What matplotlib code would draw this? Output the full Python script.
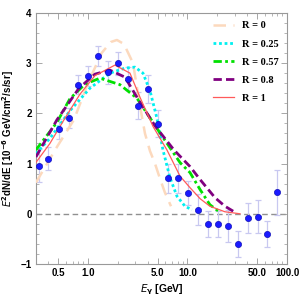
import numpy as np
import matplotlib
matplotlib.use("Agg")
import matplotlib.pyplot as plt
from matplotlib.ticker import FixedLocator, LogLocator, NullFormatter, MultipleLocator

# Puntos de datos (energía en GeV, flujo y error)
energia = [0.32, 0.40, 0.51, 0.64, 0.80, 1.01, 1.27, 1.60, 2.01, 2.53, 3.19, 4.02,
           5.06, 6.37, 8.02, 10.1, 12.7, 16.0, 20.1, 25.3, 31.9, 40.1, 50.5, 63.6, 80.1]
flujo = [0.96, 1.10, 1.69, 1.90, 2.57, 2.74, 3.15, 2.82, 3.00, 2.69, 2.15, 2.48,
         1.79, 0.71, 0.71, 0.42, 0.08, -0.21, -0.21, -0.25, -0.60, -0.09, -0.06, -0.40, 0.43]
error = [0.32, 0.22, 0.20, 0.20, 0.19, 0.20, 0.20, 0.23, 0.23, 0.23, 0.27, 0.28,
         0.27, 0.29, 0.29, 0.24, 0.31, 0.26, 0.26, 0.32, 0.26, 0.30, 0.33, 0.26, 0.45]

# Curvas de los modelos
e_r0 = [0.300, 0.488, 0.723, 1.0, 1.373, 1.700, 1.956, 2.30, 2.834, 3.332, 3.740, 4.200, 4.714, 5.292, 5.940, 6.83]
y_r0 = [0.62, 1.33, 1.87, 2.60, 3.20, 3.42, 3.46, 3.38, 3.00, 2.15, 1.60, 1.25, 1.00, 0.70, 0.42, 0.15]

e_r025 = [0.300, 0.415, 0.659, 1.047, 1.664, 2.354, 2.968, 3.571, 4.200, 4.937, 5.673, 6.67, 7.84, 9.44, 11.1]
y_r025 = [1.20, 1.50, 2.05, 2.50, 2.80, 2.90, 2.92, 2.80, 2.45, 1.90, 1.27, 0.72, 0.35, 0.15, 0.08]

e_r057 = [0.300, 0.488, 0.659, 0.933, 1.320, 2.097, 3.108, 5.292, 8.41, 10.6, 13.4, 16.8, 21.2]
y_r057 = [1.27, 1.82, 2.29, 2.58, 2.70, 2.57, 2.30, 1.61, 1.02, 0.82, 0.48, 0.18, 0.03]

e_r08 = [0.300, 0.488, 0.659, 0.812, 1.176, 1.664, 2.354, 3.332, 4.714, 7.32, 10.6, 13.4, 18.9, 23.8, 30.0]
y_r08 = [1.13, 1.87, 2.24, 2.50, 2.78, 2.86, 2.72, 2.22, 1.75, 1.27, 0.94, 0.68, 0.32, 0.15, 0.03]

e_r1 = [0.300, 0.415, 0.574, 0.831, 1.176, 1.868, 2.643, 3.332, 4.501, 6.22, 8.41, 10.6, 13.4, 16.8, 23.8, 33.7]
y_r1 = [1.02, 1.40, 1.87, 2.38, 2.75, 2.96, 2.80, 2.32, 1.74, 1.27, 0.75, 0.52, 0.30, 0.15, 0.04, 0.0]

fig = plt.figure(figsize=(2.99, 2.99), dpi=100)
ax = fig.add_axes([0.120, 0.117, 0.840, 0.840])

sans = "Liberation Sans"
serif = "Liberation Serif"

ax.axhline(0, color="#909090", lw=1.0, ls=(0, (4, 2.5)), zorder=1)

ax.errorbar(energia, flujo, yerr=error, fmt="none", ecolor="#c8c8f0", elinewidth=0.9,
            capsize=2.5, capthick=0.9, zorder=2)
ax.plot(energia, flujo, "o", color="#1a1aff", mec="#0000aa", mew=0.4, ms=4.5, zorder=6)

ax.plot(e_r0, y_r0, color="#fcd9bd", lw=1.8, ls=(0, (5, 3)), label="R = 0", zorder=3)
ax.plot(e_r025, y_r025, color="#00f0f0", lw=2.0, ls=(0, (1, 1)), label="R = 0.25", zorder=4)
ax.plot(e_r057, y_r057, color="#00e000", lw=2.0, ls=(0, (3, 1.2, 1, 1.2)), label="R = 0.57", zorder=4)
ax.plot(e_r08, y_r08, color="#800080", lw=2.0, ls=(0, (3, 1.5)), label="R = 0.8", zorder=5)
ax.plot(e_r1, y_r1, color="#ff5a5a", lw=0.9, label="R = 1", zorder=5)

ax.set_xscale("log")
ax.set_xlim(0.3, 100)
ax.set_ylim(-1, 4)

ax.xaxis.set_major_locator(FixedLocator([0.5, 1, 5, 10, 50, 100]))
ax.xaxis.set_minor_locator(LogLocator(base=10, subs=np.arange(2, 10) * 1.0))
ax.xaxis.set_minor_formatter(NullFormatter())
ax.set_xticklabels(["0.5", "1.0", "5.0", "10.0", "50.0", "100.0"])
ax.yaxis.set_major_locator(MultipleLocator(1))
ax.yaxis.set_minor_locator(MultipleLocator(0.2))

ax.tick_params(which="both", direction="in", top=True, right=True, color="#999999",
               labelsize=7, pad=3)
ax.tick_params(which="major", length=4, width=0.6)
ax.tick_params(which="minor", length=2, width=0.5)
for lab in ax.get_xticklabels() + ax.get_yticklabels():
    lab.set_fontfamily(sans)
    lab.set_fontweight("bold")
for s in ax.spines.values():
    s.set_color("#999999")
    s.set_linewidth(0.8)

ax.set_xlabel(r"$\mathbf{\mathit{E}_\gamma}$ [GeV]", fontsize=7.5, fontweight="bold", family=sans,
              labelpad=3)
ax.set_ylabel(r"$\mathbf{\mathit{E}^2}$dN/dE [10$^{\mathbf{-6}}$ GeV/cm$^{\mathbf{2}}$/s/sr]",
              fontsize=7, fontweight="bold", family=sans, labelpad=3)

leg = ax.legend(loc="upper right", frameon=False, prop={"family": serif, "weight": "bold", "size": 7.5},
                handlelength=2.0, handletextpad=0.8, labelspacing=0.85, borderaxespad=0.4)

fig.savefig("out.png", dpi=100)
